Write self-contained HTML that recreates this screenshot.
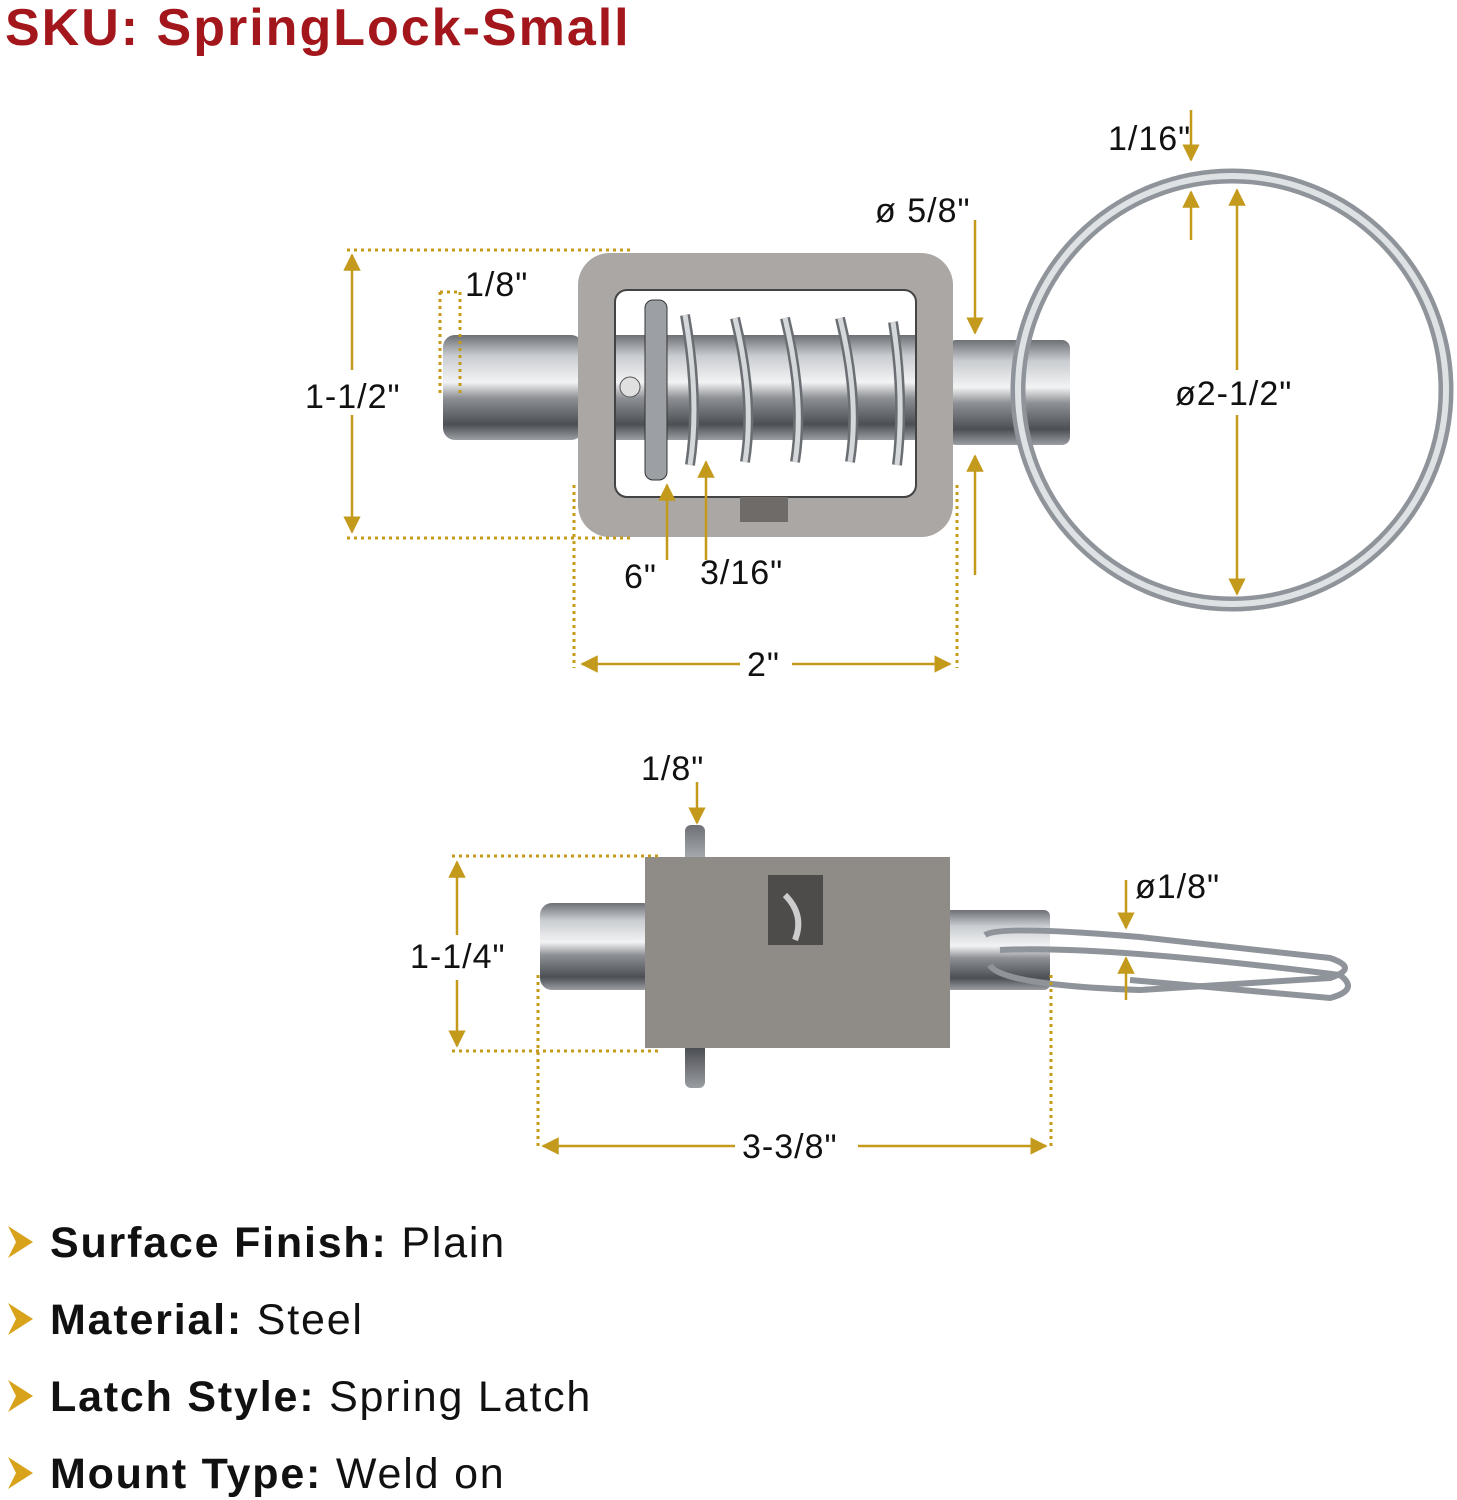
<!DOCTYPE html>
<html><head><meta charset="utf-8"><style>
body{margin:0;background:#fff}
svg{display:block}
text{font-family:"Liberation Sans",sans-serif}
</style></head><body>
<svg width="1457" height="1500" viewBox="0 0 1457 1500" xmlns="http://www.w3.org/2000/svg">
<defs>
<linearGradient id="sv" x1="0" y1="0" x2="0" y2="1">
<stop offset="0" stop-color="#6d7075"/><stop offset="0.2" stop-color="#c9ccd0"/><stop offset="0.45" stop-color="#f2f3f4"/><stop offset="0.6" stop-color="#8d9095"/><stop offset="0.85" stop-color="#4c4f54"/><stop offset="1" stop-color="#9a9da1"/></linearGradient>
<marker id="ah" viewBox="0 0 10 10" refX="9" refY="5" markerWidth="7" markerHeight="7" orient="auto-start-reverse"><path d="M0,0L10,5L0,10z" fill="#c49a1c"/></marker>
</defs>
<text x="5" y="45" font-size="52" font-weight="bold" fill="#a3161b" letter-spacing="2">SKU: SpringLock-Small</text>

<!-- top view -->
<rect x="443" y="335" width="140" height="105" rx="12" fill="url(#sv)"/>
<rect x="948" y="340" width="122" height="105" rx="8" fill="url(#sv)"/>
<circle cx="1232" cy="390" r="214" fill="none" stroke="#8f949a" stroke-width="15"/>
<circle cx="1232" cy="390" r="214" fill="none" stroke="#dfe2e5" stroke-width="6"/>
<rect x="578" y="253" width="375" height="284" rx="32" fill="#aaa7a4"/>
<rect x="615" y="290" width="301" height="207" rx="12" fill="#fff" stroke="#444" stroke-width="2"/>
<rect x="616" y="335" width="299" height="105" fill="url(#sv)"/>
<rect x="645" y="300" width="22" height="180" rx="8" fill="#9ca0a5" stroke="#333"/>
<g fill="none" stroke="#6a6e73" stroke-width="10">
<path d="M685,315 Q700,400 690,465"/><path d="M735,318 Q755,400 745,462"/><path d="M785,318 Q805,400 795,462"/><path d="M840,318 Q860,400 850,462"/><path d="M893,322 Q905,400 897,465"/>
</g>
<g fill="none" stroke="#d5d8db" stroke-width="5">
<path d="M685,315 Q700,400 690,465"/><path d="M735,318 Q755,400 745,462"/><path d="M785,318 Q805,400 795,462"/><path d="M840,318 Q860,400 850,462"/><path d="M893,322 Q905,400 897,465"/>
</g>
<circle cx="630" cy="387" r="10" fill="#e0e0e0" stroke="#555"/>
<rect x="740" y="497" width="48" height="25" fill="#6e6b69"/>

<g stroke="#c49a1c" stroke-width="3" fill="none" stroke-dasharray="3,4">
<path d="M347,250H630M347,538H630M440,292V395M460,292V395M440,292H460M574,485V668M957,485V668"/>
</g>
<g stroke="#c49a1c" stroke-width="2.5" fill="none" marker-end="url(#ah)">
<path d="M352,370V255"/><path d="M352,415V532"/>
<path d="M740,664H582"/><path d="M792,664H950"/>
<path d="M975,220V333"/><path d="M975,575V456"/>
<path d="M667,560V485"/><path d="M706,560V462"/>
<path d="M1191,110V160"/><path d="M1191,240V192"/>
<path d="M1237,370V190"/><path d="M1237,415V594"/>
</g>
<g font-size="34" fill="#111" letter-spacing="1">
<text x="305" y="408">1-1/2"</text>
<text x="465" y="296">1/8"</text>
<text x="875" y="222">ø 5/8"</text>
<text x="1108" y="150">1/16"</text>
<text x="1175" y="405">ø2-1/2"</text>
<text x="624" y="588">6"</text>
<text x="700" y="584">3/16"</text>
<text x="747" y="676">2"</text>
</g>

<!-- bottom view -->
<rect x="540" y="903" width="115" height="87" rx="12" fill="url(#sv)"/>
<rect x="945" y="910" width="105" height="80" rx="6" fill="url(#sv)"/>
<rect x="685" y="825" width="20" height="263" rx="6" fill="url(#sv)"/>
<g fill="none" stroke="#8f949a" stroke-width="6">
<path d="M985,935 Q1000,925 1140,937 L1330,958 Q1360,968 1330,978 L1140,990 Q1000,985 990,965"/>
<path d="M1000,950 Q1100,945 1340,975 Q1360,990 1330,998 L1130,980"/>
</g>
<rect x="645" y="857" width="305" height="191" fill="#8f8c88"/>
<rect x="768" y="875" width="55" height="70" fill="#4e4c4a"/>
<path d="M785,895 Q805,915 795,940" stroke="#ccc" stroke-width="6" fill="none"/>
<g stroke="#c49a1c" stroke-width="3" fill="none" stroke-dasharray="3,4">
<path d="M452,856H660M452,1051H660M538,975V1150M1051,975V1150"/>
</g>
<g stroke="#c49a1c" stroke-width="2.5" fill="none" marker-end="url(#ah)">
<path d="M457,935V862"/><path d="M457,980V1046"/>
<path d="M735,1146H543"/><path d="M858,1146H1046"/>
<path d="M697,782V823"/>
<path d="M1126,880V928"/><path d="M1126,1000V958"/>
</g>
<g font-size="34" fill="#111" letter-spacing="1">
<text x="410" y="968">1-1/4"</text>
<text x="641" y="780">1/8"</text>
<text x="1135" y="898">ø1/8"</text>
<text x="742" y="1158">3-3/8"</text>
</g>

<!-- bullets -->
<g fill="#d9a21b">
<path d="M8,1226 L33,1242 L8,1258 L16,1242z"/>
<path d="M8,1303 L33,1319 L8,1335 L16,1319z"/>
<path d="M8,1380 L33,1396 L8,1412 L16,1396z"/>
<path d="M8,1457 L33,1473 L8,1489 L16,1473z"/>
</g>
<g font-size="43" fill="#111" letter-spacing="1.8">
<text x="50" y="1257"><tspan font-weight="bold">Surface Finish:</tspan> Plain</text>
<text x="50" y="1334"><tspan font-weight="bold">Material:</tspan> Steel</text>
<text x="50" y="1411"><tspan font-weight="bold">Latch Style:</tspan> Spring Latch</text>
<text x="50" y="1488"><tspan font-weight="bold">Mount Type:</tspan> Weld on</text>
</g>
</svg>
</body></html>
